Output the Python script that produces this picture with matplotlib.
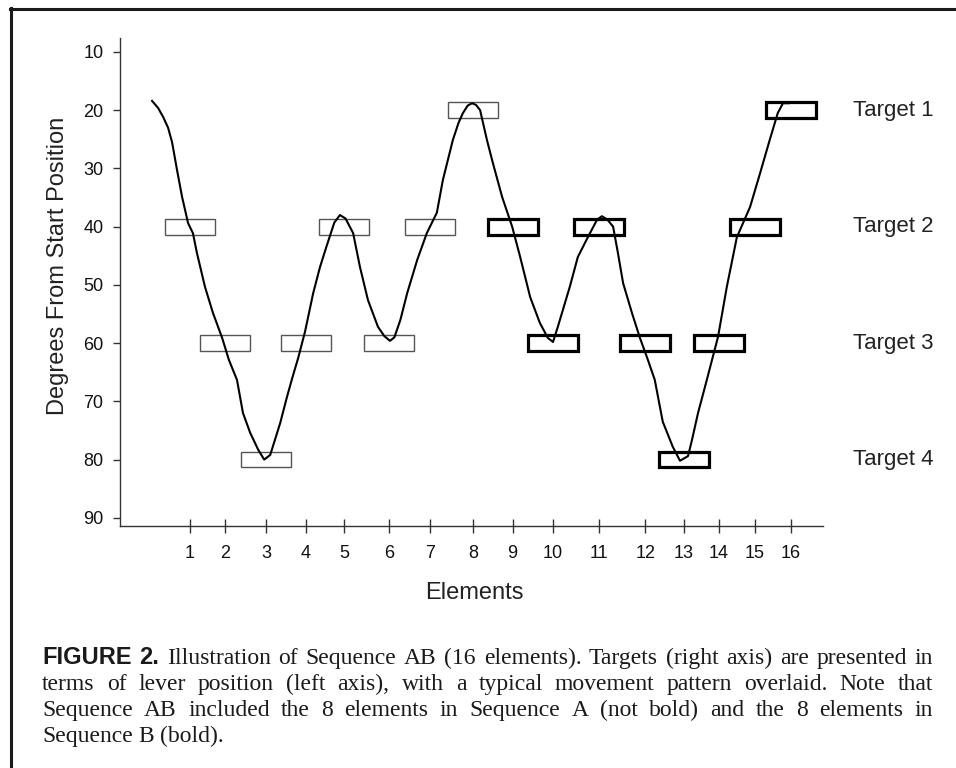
import matplotlib
matplotlib.use('Agg')
import matplotlib.pyplot as plt
from matplotlib.patches import Rectangle
from matplotlib.lines import Line2D

plt.rcParams['font.family'] = ['Liberation Sans', 'DejaVu Sans']

# element ticks sit at uneven spacing in the original figure
element_pos = [1.0, 1.87, 2.90, 3.89, 4.84, 5.97, 6.99, 8.06,
               9.05, 10.06, 11.21, 12.36, 13.33, 14.20, 15.10, 16.0]
element_labels = [str(i) for i in range(1, 17)]
# target (degrees) for each element; first 8 = Sequence A, last 8 = Sequence B (bold)
element_target = [40, 60, 80, 60, 40, 60, 40, 20,
                  40, 60, 40, 60, 80, 60, 40, 20]
element_bold = [False] * 8 + [True] * 8

target_names = ['Target 1', 'Target 2', 'Target 3', 'Target 4']
target_deg = [20, 40, 60, 80]
y_ticks = [10, 20, 30, 40, 50, 60, 70, 80, 90]

# typical movement trace
trace_x = [0.05, 0.20, 0.33, 0.45, 0.55, 0.68, 0.80, 0.95, 1.07, 1.17, 1.37, 1.57,
           1.80, 1.97, 2.17, 2.32, 2.50, 2.70, 2.85, 3.00, 3.10, 3.25, 3.42,
           3.55, 3.70, 3.87, 4.07, 4.24, 4.40, 4.60, 4.74, 4.88, 5.07, 5.24, 5.44,
           5.69, 5.85, 5.99, 6.10, 6.25, 6.42, 6.67, 6.91, 7.16, 7.31, 7.56, 7.70, 7.81,
           7.93, 8.04, 8.14, 8.24, 8.41, 8.56, 8.79, 9.04, 9.24, 9.49, 9.73, 9.93,
           10.06, 10.18, 10.48, 10.68, 10.93, 11.16, 11.28, 11.42, 11.56, 11.68, 11.81,
           12.03, 12.23, 12.43, 12.60, 12.80, 13.05, 13.23, 13.43, 13.53, 13.68,
           13.90, 14.18, 14.40, 14.65, 14.98, 15.23, 15.47, 15.67, 15.80, 15.95]
trace_y = [18.4, 19.6, 21.2, 23.0, 25.5, 30.5, 34.9, 39.4, 41.1, 44.5, 50.3, 54.8,
           59.1, 62.9, 66.3, 72.0, 75.4, 78.3, 80.0, 79.2, 77.0, 73.7, 69.2,
           66.0, 62.5, 58.0, 51.5, 47.0, 43.5, 39.3, 38.0, 38.6, 41.1, 46.9, 52.6,
           57.2, 58.8, 59.6, 59.0, 56.0, 51.4, 45.7, 41.1, 37.6, 32.0, 25.1, 22.2, 20.5,
           19.2, 18.8, 19.1, 20.0, 25.1, 29.1, 34.9, 40.0, 45.2, 52.1, 56.5, 59.1,
           59.8, 57.2, 50.3, 45.2, 41.8, 38.8, 38.2, 38.8, 40.0, 44.5, 49.7,
           54.8, 59.1, 62.9, 66.3, 73.5, 77.8, 80.2, 79.4, 76.6, 72.0,
           66.3, 58.9, 50.3, 41.8, 36.6, 30.8, 25.1, 20.5, 18.8, 18.8]

caption_lines = [
    "Illustration of Sequence AB (16 elements). Targets (right axis) are presented in",
    "terms of lever position (left axis), with a typical movement pattern overlaid. Note that",
    "Sequence AB included the 8 elements in Sequence A (not bold) and the 8 elements in",
    "Sequence B (bold).",
]
caption_head = "FIGURE 2."

W, H = 956, 768
fig = plt.figure(figsize=(W / 100, H / 100), dpi=100)
ax = fig.add_axes([120 / W, 1 - 526 / H, 703 / W, 488 / H])

box_w, box_h = 1.25, 2.7
for x, t, b in zip(element_pos, element_target, element_bold):
    if b:
        r = Rectangle((x - box_w / 2, t - box_h / 2), box_w, box_h, fill=False,
                      edgecolor='black', linewidth=2.3, zorder=2)
    else:
        r = Rectangle((x - box_w / 2, t - box_h / 2), box_w, box_h, fill=False,
                      edgecolor='#555555', linewidth=1.0, zorder=2)
    ax.add_patch(r)

ax.plot(trace_x, trace_y, color='black', linewidth=1.5, solid_joinstyle='round', zorder=3)

for name, d in zip(target_names, target_deg):
    ax.text(17.55, d, name, fontsize=16, color='#222222', va='center', ha='left', clip_on=False)

ax.set_xlim(-0.75, 16.80)
ax.set_ylim(91.4, 7.6)
ax.set_xticks(element_pos)
ax.set_xticklabels(element_labels)
ax.set_yticks(y_ticks)
for s in ['top', 'right']:
    ax.spines[s].set_visible(False)
for s in ['left', 'bottom']:
    ax.spines[s].set_color('#333333')
    ax.spines[s].set_linewidth(1.0)
ax.tick_params(axis='x', direction='inout', length=9.5, width=1.0, color='#333333',
               labelsize=13, pad=9, labelcolor='#111111')
ax.tick_params(axis='y', direction='out', length=5, width=1.0, color='#333333',
               labelsize=13, pad=7, labelcolor='#111111')

fig.text(474 / W, 1 - 593 / H, 'Elements', fontsize=17, ha='center', va='center', color='#222222')
fig.text(58 / W, 1 - 266 / H, 'Degrees From Start Position', fontsize=17, rotation=90,
         ha='center', va='center', color='#222222')

# frame around the figure (top and left only are visible)
fig.add_artist(Line2D([10 / W, 1], [1 - 9 / H, 1 - 9 / H], color='#1a1a1a', linewidth=2.2))
fig.add_artist(Line2D([11 / W, 11 / W], [0, 1 - 8 / H], color='#1a1a1a', linewidth=2.2))

# justified caption
renderer = fig.canvas.get_renderer()
left_px, right_px = 42, 933
cap_size = 17
serif = dict(family=['Liberation Serif', 'DejaVu Serif'], fontsize=cap_size, color='#1a1a1a')
head = dict(family=['Liberation Sans', 'DejaVu Sans'], fontsize=cap_size,
            weight='bold', color='#1a1a1a')
baselines = [664, 690, 716, 742]

for i, line in enumerate(caption_lines):
    words = [(w, serif) for w in line.split()]
    if i == 0:
        words = [(w, head) for w in caption_head.split()] + words
    y = 1 - baselines[i] / H
    texts = [fig.text(0, y, w, va='baseline', ha='left', **p) for w, p in words]
    widths = [t.get_window_extent(renderer).width for t in texts]
    if i < len(caption_lines) - 1:
        gap = (right_px - left_px - sum(widths)) / (len(texts) - 1)
    else:
        gap = cap_size * 100 / 72 * 0.25
    x = left_px
    for t, w in zip(texts, widths):
        t.set_x(x / W)
        x += w + gap

fig.savefig('out.png', dpi=100)
